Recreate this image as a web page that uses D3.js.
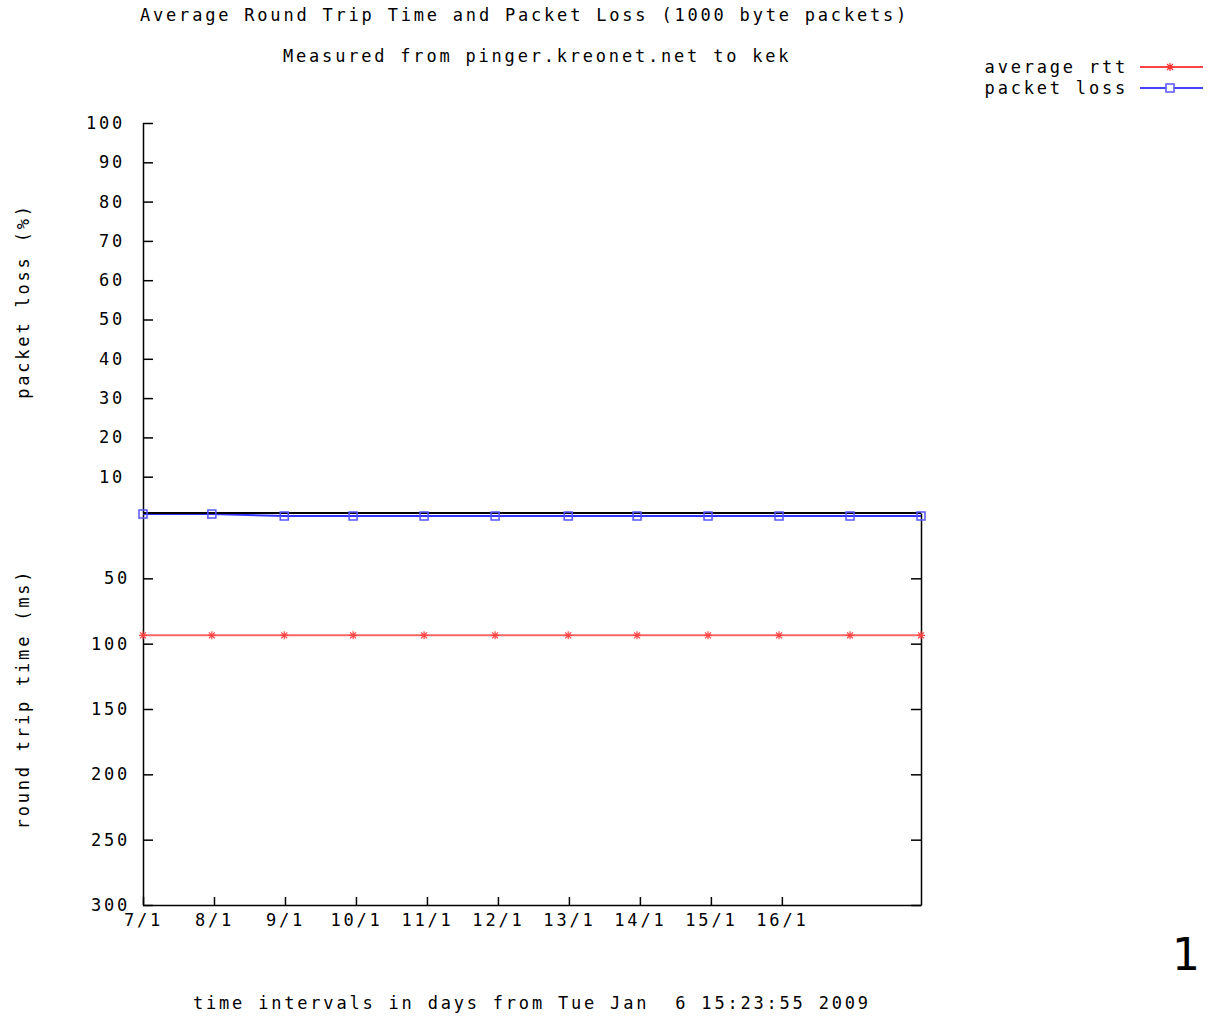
<!DOCTYPE html>
<html>
<head>
<meta charset="utf-8">
<script src="https://cdn.jsdelivr.net/npm/d3@7"></script>
<style>
  body { margin: 0; background: #fff; }
  svg text { font-family: "DejaVu Sans Mono", monospace; font-size: 17px; letter-spacing: 2.8px; fill: #000; }
</style>
</head>
<body>
<div id="chart"></div>
<script>
// data
const days = [0, 0.97, 1.99, 2.96, 3.96, 4.96, 5.99, 6.96, 7.96, 8.96, 9.96, 10.96];
const rttMs = [93.6, 93.6, 93.6, 93.6, 93.6, 93.6, 93.6, 93.6, 93.6, 93.6, 93.6, 93.6];
const lossPct = [0.5, 0.5, 0, 0, 0, 0, 0, 0, 0, 0, 0, 0];
const dayTicks = [0, 1, 2, 3, 4, 5, 6, 7, 8, 9];
const dayLabels = ['7/1', '8/1', '9/1', '10/1', '11/1', '12/1', '13/1', '14/1', '15/1', '16/1'];
const lossTicks = [10, 20, 30, 40, 50, 60, 70, 80, 90, 100];
const rttTicks = [50, 100, 150, 200, 250, 300];

let width = 1207, height = 1016;

let svg = d3.select('#chart')
    .append('svg')
    .attr('width', width)
    .attr('height', height);

// scales
let x = d3.scaleLinear().domain([0, 10.96]).range([143, 921]);
let loss = d3.scaleLinear().domain([0, 100]).range([516, 123]);
let rtt = d3.scaleLinear().domain([0, 300]).range([513, 905]);

// titles
svg.append('text').attr('x', 140).attr('y', 21)
    .text('Average Round Trip Time and Packet Loss (1000 byte packets)');
svg.append('text').attr('x', 283).attr('y', 62)
    .text('Measured from pinger.kreonet.net to kek');

// axis labels
svg.append('text')
    .attr('transform', 'translate(29,301) rotate(-90)')
    .attr('text-anchor', 'middle')
    .text('packet loss (%)');
svg.append('text')
    .attr('transform', 'translate(29,699) rotate(-90)')
    .attr('text-anchor', 'middle')
    .text('round trip time (ms)');
svg.append('text')
    .attr('x', 193).attr('y', 1009)
    .style('white-space', 'pre')
    .text('time intervals in days from Tue Jan  6 15:23:55 2009');

// packet loss axis (top panel)
svg.append('g')
    .attr('transform', `translate(${x(0)},0)`)
    .call(d3.axisLeft(loss).tickValues(lossTicks).tickSizeInner(-10).tickSizeOuter(0).tickPadding(18))
    .call(g => g.selectAll('path, line').attr('stroke', '#000').attr('stroke-width', 1.5))
    .call(g => g.select('.domain').attr('d', `M0.5,${loss(100)}V${rtt(0)}`));

// rtt axis (bottom panel)
svg.append('g')
    .attr('transform', `translate(${x(0)},0)`)
    .call(d3.axisLeft(rtt).tickValues(rttTicks).tickSizeInner(-10).tickSizeOuter(0).tickPadding(13))
    .call(g => g.selectAll('path, line').attr('stroke', '#000').attr('stroke-width', 1.5));

svg.append('g')
    .attr('transform', `translate(${x(10.96)},0)`)
    .call(d3.axisRight(rtt).tickValues(rttTicks).tickSizeInner(-10).tickSizeOuter(0).tickFormat(''))
    .call(g => g.selectAll('path, line').attr('stroke', '#000').attr('stroke-width', 1.5));

// time axis
svg.append('g')
    .attr('transform', `translate(0,${rtt(300)})`)
    .call(d3.axisBottom(x).tickValues(dayTicks).tickSizeInner(-8).tickSizeOuter(0).tickPadding(9)
        .tickFormat((d, i) => dayLabels[i]))
    .call(g => g.selectAll('path, line').attr('stroke', '#000').attr('stroke-width', 1.5));

// series
let pts = days.map((d, i) => ({ day: d, rtt: rttMs[i], loss: lossPct[i] }));

svg.append('path')
    .datum(pts)
    .attr('fill', 'none')
    .attr('stroke', '#ff6666')
    .attr('stroke-width', 2)
    .attr('d', d3.line().x(d => x(d.day)).y(d => rtt(d.rtt)));

svg.append('path')
    .datum(pts)
    .attr('fill', 'none')
    .attr('stroke', '#3333ff')
    .attr('stroke-width', 2)
    .attr('d', d3.line().x(d => x(d.day)).y(d => loss(d.loss)));

// top of the rtt box
svg.append('line')
    .attr('x1', x(0)).attr('x2', x(10.96))
    .attr('y1', rtt(0)).attr('y2', rtt(0))
    .attr('stroke', '#000').attr('stroke-width', 2);

// star markers (+ and x)
const starPath = 'M-4,0H4M0,-4V4M-3,-3L3,3M-3,3L3,-3';
svg.selectAll('.rtt-pt')
    .data(pts)
    .enter()
    .append('path')
    .attr('class', 'rtt-pt')
    .attr('transform', d => `translate(${x(d.day)},${rtt(d.rtt)})`)
    .attr('d', starPath)
    .attr('stroke', '#ff4444')
    .attr('stroke-width', 1.2);

svg.selectAll('.loss-pt')
    .data(pts)
    .enter()
    .append('rect')
    .attr('class', 'loss-pt')
    .attr('x', d => x(d.day) - 4)
    .attr('y', d => loss(d.loss) - 4)
    .attr('width', 8)
    .attr('height', 8)
    .attr('fill', 'none')
    .attr('stroke', '#5555ff')
    .attr('stroke-width', 1.5);

// legend
let legend = svg.append('g');
legend.append('text').attr('x', 1128).attr('y', 73).attr('text-anchor', 'end').text('average rtt');
legend.append('text').attr('x', 1128).attr('y', 94).attr('text-anchor', 'end').text('packet loss');
legend.append('line').attr('x1', 1140).attr('x2', 1203).attr('y1', 67).attr('y2', 67)
    .attr('stroke', '#ff4444').attr('stroke-width', 2);
legend.append('path').attr('transform', 'translate(1170,67)').attr('d', starPath)
    .attr('stroke', '#ff3333').attr('stroke-width', 1.2);
legend.append('line').attr('x1', 1140).attr('x2', 1203).attr('y1', 88).attr('y2', 88)
    .attr('stroke', '#4444ff').attr('stroke-width', 2);
legend.append('rect').attr('x', 1166).attr('y', 84).attr('width', 8).attr('height', 8)
    .attr('fill', '#fff').attr('stroke', '#5555ff').attr('stroke-width', 1.5);

// stray page number at the edge
svg.append('text')
    .attr('x', 1172).attr('y', 970)
    .style('font-family', '"DejaVu Sans", sans-serif')
    .style('font-size', '44px')
    .style('letter-spacing', '0px')
    .text('1');
</script>
</body>
</html>
